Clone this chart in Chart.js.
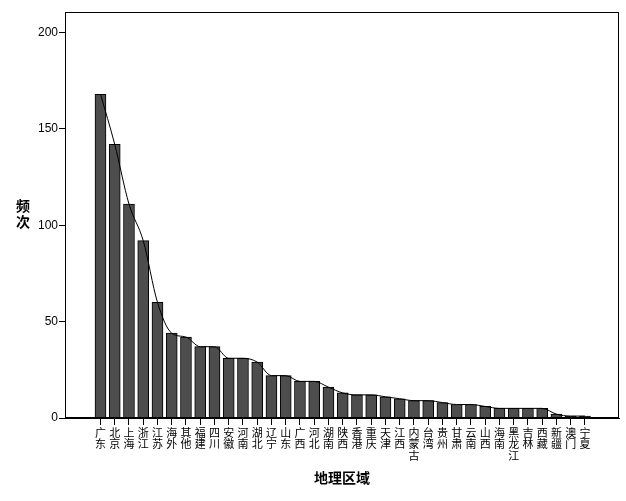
<!DOCTYPE html>
<html>
<head>
<meta charset="utf-8">
<script src="https://cdn.jsdelivr.net/npm/chart.js@4"></script>
<style>
html,body{margin:0;padding:0;background:#fff;}
#c{display:block;}
</style>
</head>
<body>
<canvas id="c" width="626" height="501" style="width:626px;height:501px"></canvas>
<script>
const categories = ['广东','北京','上海','浙江','江苏','海外','其他','福建','四川','安徽','河南','湖北','辽宁','山东','广西','河北','湖南','陕西','香港','重庆','天津','江西','内蒙古','台湾','贵州','甘肃','云南','山西','海南','黑龙江','吉林','西藏','新疆','澳门','宁夏'];
const counts = [168,142,111,92,60,44,42,37,37,31,31,29,22,22,19,19,16,13,12,12,11,10,9,9,8,7,7,6,5,5,5,5,2,1,1];
const yTicks = [0,50,100,150,200];
const yTitle = ['频','次'];
const xTitle = '地理区域';

const pts = counts.map((v,i)=>({x:i,y:v}));

const framePlugin = {
  id:'frame',
  afterDraw(chart){
    const {ctx, chartArea:a} = chart;
    ctx.save();
    ctx.strokeStyle = '#000';
    ctx.lineWidth = 1;
    ctx.strokeRect(Math.round(a.left)+0.5, Math.round(a.top)+0.5, Math.round(a.right-a.left)-1, Math.round(a.bottom-a.top)-1);
    ctx.fillStyle = '#000';
    ctx.textAlign = 'center';
    ctx.textBaseline = 'middle';
    ctx.font = '600 14px "Noto Sans CJK SC"';
    yTitle.forEach((ch,i)=>ctx.fillText(ch, 23, 206 + i*16));
    ctx.fillText(xTitle, 342, 478);
    ctx.restore();
  }
};

new Chart(document.getElementById('c'), {
  data: {
    datasets: [
      {
        type:'line',
        data: pts,
        borderColor:'#000',
        borderWidth:1,
        pointRadius:0,
        fill:false,
        cubicInterpolationMode:'monotone',
        order:0
      },
      {
        type:'bar',
        data: pts,
        backgroundColor:'#4d4d4d',
        borderColor:'#000',
        borderWidth:1,
        barThickness:11,
        order:1
      }
    ]
  },
  options: {
    responsive:false,
    animation:false,
    devicePixelRatio:1,
    layout:{padding:{top:12, right:7, left:0, bottom:0}},
    plugins:{legend:{display:false}, tooltip:{enabled:false}},
    scales:{
      x:{
        type:'linear',
        offset:false,
        min:-2.49,
        max:36.39,
        afterBuildTicks(s){ s.ticks = categories.map((_,i)=>({value:i})); },
        afterFit(s){ s.height = 83; },
        grid:{drawOnChartArea:false, drawTicks:true, offset:false, tickLength:7, color:'#000', tickColor:'#000'},
        border:{display:true, color:'#000'},
        ticks:{
          autoSkip:false, maxRotation:0, minRotation:0, padding:2,
          color:'#000',
          font:{family:'"Noto Sans CJK SC"', size:11, lineHeight:1.03},
          callback:(v)=>{ const c = categories[v]; return c ? Array.from(c) : ''; }
        }
      },
      y:{
        min:0,
        max:210.66,
        afterBuildTicks(s){ s.ticks = yTicks.map(v=>({value:v})); },
        afterFit(s){ s.width = 65; },
        grid:{drawOnChartArea:false, drawTicks:true, tickLength:6, color:'#000', tickColor:'#000'},
        border:{display:true, color:'#000'},
        ticks:{padding:1, color:'#000', font:{family:'"Liberation Sans", Arial, sans-serif', size:12}}
      }
    }
  },
  plugins:[framePlugin]
});
</script>
</body>
</html>
